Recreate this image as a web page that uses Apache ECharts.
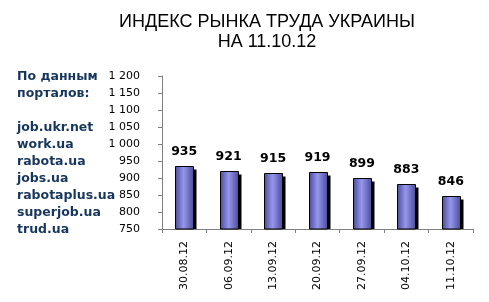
<!DOCTYPE html>
<html><head><meta charset="utf-8">
<script src="https://cdn.jsdelivr.net/npm/echarts@6/dist/echarts.min.js"></script>
<style>html,body{margin:0;padding:0;background:#fff}#c{width:489px;height:302px}</style>
</head><body><div id="c"></div>
<script>
var categories = ['30.08.12','06.09.12','13.09.12','20.09.12','27.09.12','04.10.12','11.10.12'];
var values = [935, 921, 915, 919, 899, 883, 846];
var titleLines = ['ИНДЕКС РЫНКА ТРУДА УКРАИНЫ', 'НА 11.10.12'];
var sideLines = ['По данным', 'порталов:', '', 'job.ukr.net', 'work.ua', 'rabota.ua', 'jobs.ua', 'rabotaplus.ua', 'superjob.ua', 'trud.ua'];
var yMin = 750, yMax = 1200, yStep = 50;

var chart = echarts.init(document.getElementById('c'));
var graphics = [];
sideLines.forEach(function (t, i) {
  graphics.push({type: 'text', left: 17, top: 70 + i * 17.05,
    style: {text: t, fill: '#17365d', font: 'bold 12.5px "DejaVu Sans", Verdana, sans-serif'}});
});
var BW = 18, SH = 3;
chart.setOption({
  animation: false,
  title: {text: titleLines.join('\n'), left: 262, top: 7, textAlign: 'center',
    textStyle: {fontFamily: 'Liberation Sans, Arial, sans-serif', fontWeight: 'normal', fontSize: 18, color: '#000', lineHeight: 20}},
  graphic: graphics,
  grid: {left: 162, right: 16, top: 76, bottom: 73, containLabel: false},
  xAxis: {type: 'category', data: categories, boundaryGap: true,
    axisLine: {lineStyle: {color: '#808080', width: 1}},
    axisTick: {show: true, length: 4, lineStyle: {color: '#808080'}},
    axisLabel: {rotate: 90, margin: 12, color: '#000', fontSize: 11, fontFamily: 'DejaVu Sans, Verdana, sans-serif'}},
  yAxis: {type: 'value', min: yMin, max: yMax, interval: yStep,
    axisLine: {show: true, lineStyle: {color: '#808080', width: 1}},
    axisTick: {show: true, length: 4, lineStyle: {color: '#808080'}},
    splitLine: {show: false},
    axisLabel: {margin: 22, color: '#000', fontSize: 11, fontFamily: 'DejaVu Sans, Verdana, sans-serif',
      formatter: function (v) { return String(v).replace(/\B(?=(\d{3})+(?!\d))/g, ' '); }}},
  series: [{type: 'custom', data: values.map(function (v, i) { return [i, v]; }),
    renderItem: function (params, api) {
      var top = api.coord([api.value(0), api.value(1)]);
      var base = api.coord([api.value(0), yMin]);
      var x0 = Math.round(top[0] - BW / 2) + 0.5, y0 = Math.round(top[1]) + 0.5;
      var h = base[1] - y0;
      return {type: 'group', children: [
        {type: 'rect', shape: {x: x0 + SH, y: y0 + SH, width: BW, height: h - SH}, style: {fill: '#000'}},
        {type: 'rect', shape: {x: x0, y: y0, width: BW, height: h},
          style: {fill: new echarts.graphic.LinearGradient(0, 0, 1, 0, [
            {offset: 0, color: '#4a4a96'}, {offset: 0.45, color: '#9696ee'}, {offset: 1, color: '#4a4a96'}]),
            stroke: '#000', lineWidth: 1}},
        {type: 'text', x: top[0], y: y0 - 8, style: {text: String(api.value(1)), align: 'center', verticalAlign: 'bottom',
          fill: '#000', font: 'bold 12.5px "DejaVu Sans", Verdana, sans-serif'}}
      ]};
    }}]
});
</script></body></html>
